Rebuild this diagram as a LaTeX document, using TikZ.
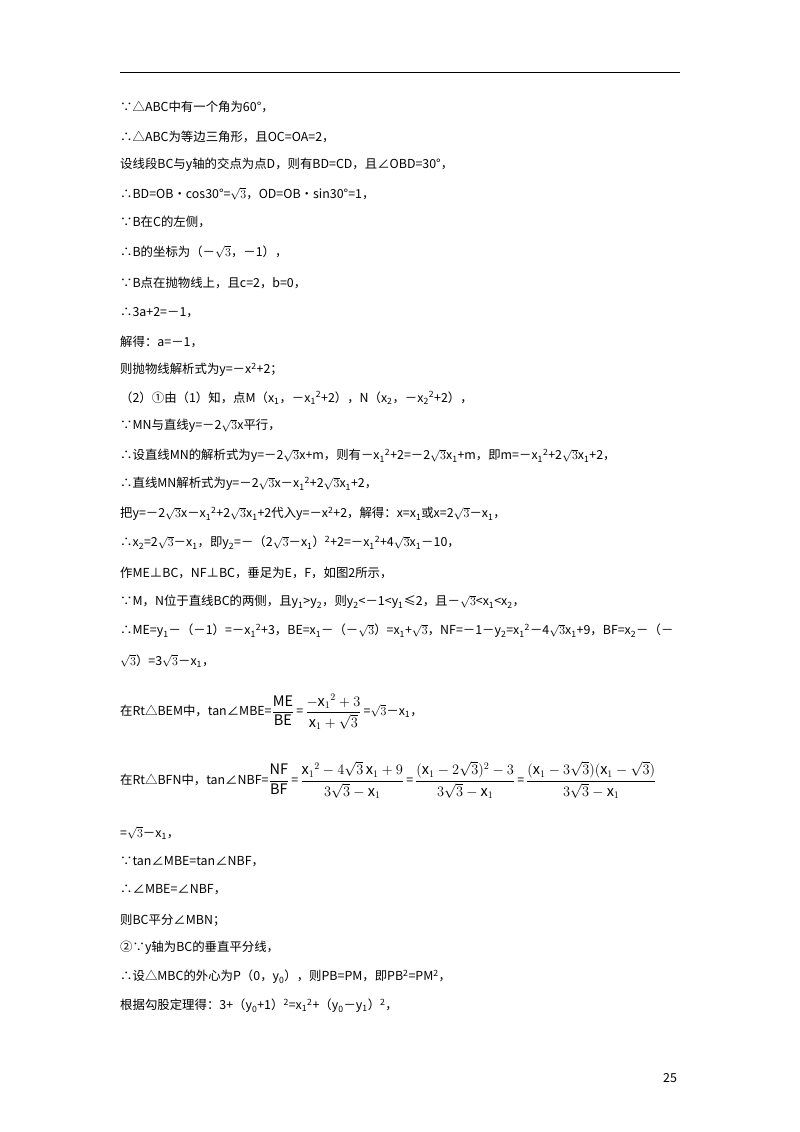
\documentclass[tikz,border=0pt]{standalone}
\usepackage{amsmath}
\usepackage{fontspec}
\setmainfont{Noto Sans CJK SC}
\newcommand\srt{\ensuremath{\sqrt{3}}}
\newcommand\xo{x\textsubscript{1}}
\newcommand\xt{x\textsubscript{2}}
\newcommand\yo{y\textsubscript{1}}
\newcommand\yt{y\textsubscript{2}}
\newcommand\yz{y\textsubscript{0}}
\newcommand\sqd{\textsuperscript{2}}
\newcommand\bigf[1]{\mbox{\fontsize{14.5}{16}\selectfont$\displaystyle#1$}}
\begin{document}
\begin{tikzpicture}[x=1pt,y=-1pt,
  ln/.style={anchor=west,inner sep=0pt,font=\fontsize{12.4}{14}\selectfont}]
\useasboundingbox (0,0) rectangle (800,1132);
\fill[white] (0,0) rectangle (800,1132);
\draw[line width=0.8pt] (120,72) -- (680,72);
\node[ln] (l1) at (120,107) {∵△ABC中有一个角为60°，};
\node[ln] (l2) at (120,137) {∴△ABC为等边三角形，且OC=OA=2，};
\node[ln] (l3) at (120,165) {设线段BC与y轴的交点为点D，则有BD=CD，且∠OBD=30°，};
\node[ln] (l4) at (120,194) {∴BD=OB•cos30°=\srt，OD=OB•sin30°=1，};
\node[ln] (l5) at (120,222) {∵B在C的左侧，};
\node[ln] (l6) at (120,252) {∴B的坐标为（－\srt，－1），};
\node[ln] (l7) at (120,283) {∵B点在抛物线上，且c=2，b=0，};
\node[ln] (l8) at (120,313) {∴3a+2=－1，};
\node[ln] (l9) at (120,342) {解得：a=－1，};
\node[ln] (l10) at (120,370) {则抛物线解析式为y=－x\sqd+2；};
\node[ln] (l11) at (120,398) {（2）①由（1）知，点M（\xo，－\xo\sqd+2），N（\xt，－\xt\sqd+2），};
\node[ln] (l12) at (120,426) {∵MN与直线y=－2\srt x平行，};
\node[ln] (l13) at (120,456) {∴设直线MN的解析式为y=－2\srt x+m，则有－\xo\sqd+2=－2\srt\xo+m，即m=－\xo\sqd+2\srt\xo+2，};
\node[ln] (l14) at (120,484) {∴直线MN解析式为y=－2\srt x－\xo\sqd+2\srt\xo+2，};
\node[ln] (l15) at (120,514) {把y=－2\srt x－\xo\sqd+2\srt\xo+2代入y=－x\sqd+2，解得：x=\xo 或x=2\srt－\xo，};
\node[ln] (l16) at (120,543) {∴\xt=2\srt－\xo，即\yt=－（2\srt－\xo）\sqd+2=－\xo\sqd+4\srt\xo－10，};
\node[ln] (l17) at (120,573) {作ME⊥BC，NF⊥BC，垂足为E，F，如图2所示，};
\node[ln] (l18) at (120,602) {∵M，N位于直线BC的两侧，且\yo>\yt，则\yt<－1<\yo≤2，且－\srt<\xo<\xt，};
\node[ln] (l19) at (120,631) {∴ME=\yo－（－1）=－\xo\sqd+3，BE=\xo－（－\srt）=\xo+\srt，NF=－1－\yt=\xo\sqd－4\srt\xo+9，BF=\xt－（－};
\node[ln] (l20) at (120,661) {\srt）=3\srt－\xo，};
\node[ln] (l21) at (120,712) {在Rt△BEM中，tan∠MBE=\bigf{\frac{\mathrm{ME}}{\mathrm{BE}}}\,=\,\bigf{\frac{-\mathrm{x}_1{}^2+3}{\mathrm{x}_1+\sqrt{3}}}\,=\srt－\xo，};
\node[ln] (l22) at (120,780) {在Rt△BFN中，tan∠NBF=\bigf{\frac{\mathrm{NF}}{\mathrm{BF}}}\,=\,\bigf{\frac{\mathrm{x}_1{}^2-4\sqrt{3}\,\mathrm{x}_1+9}{3\sqrt{3}-\mathrm{x}_1}}\,=\,\bigf{\frac{(\mathrm{x}_1-2\sqrt{3})^2-3}{3\sqrt{3}-\mathrm{x}_1}}\,=\,\bigf{\frac{(\mathrm{x}_1-3\sqrt{3})(\mathrm{x}_1-\sqrt{3})}{3\sqrt{3}-\mathrm{x}_1}}};
\node[ln] (l23) at (120,833) {=\srt－\xo，};
\node[ln] (l24) at (120,862) {∵tan∠MBE=tan∠NBF，};
\node[ln] (l25) at (120,890) {∴∠MBE=∠NBF，};
\node[ln] (l26) at (120,920) {则BC平分∠MBN；};
\node[ln] (l27) at (120,948) {②∵y轴为BC的垂直平分线，};
\node[ln] (l28) at (120,977) {∴设△MBC的外心为P（0，\yz），则PB=PM，即PB\sqd=PM\sqd，};
\node[ln] (l29) at (120,1006) {根据勾股定理得：3+（\yz+1）\sqd=\xo\sqd+（\yz－\yo）\sqd，};
\node[ln] (pg) at (663,1078) {25};
\end{tikzpicture}
\end{document}
